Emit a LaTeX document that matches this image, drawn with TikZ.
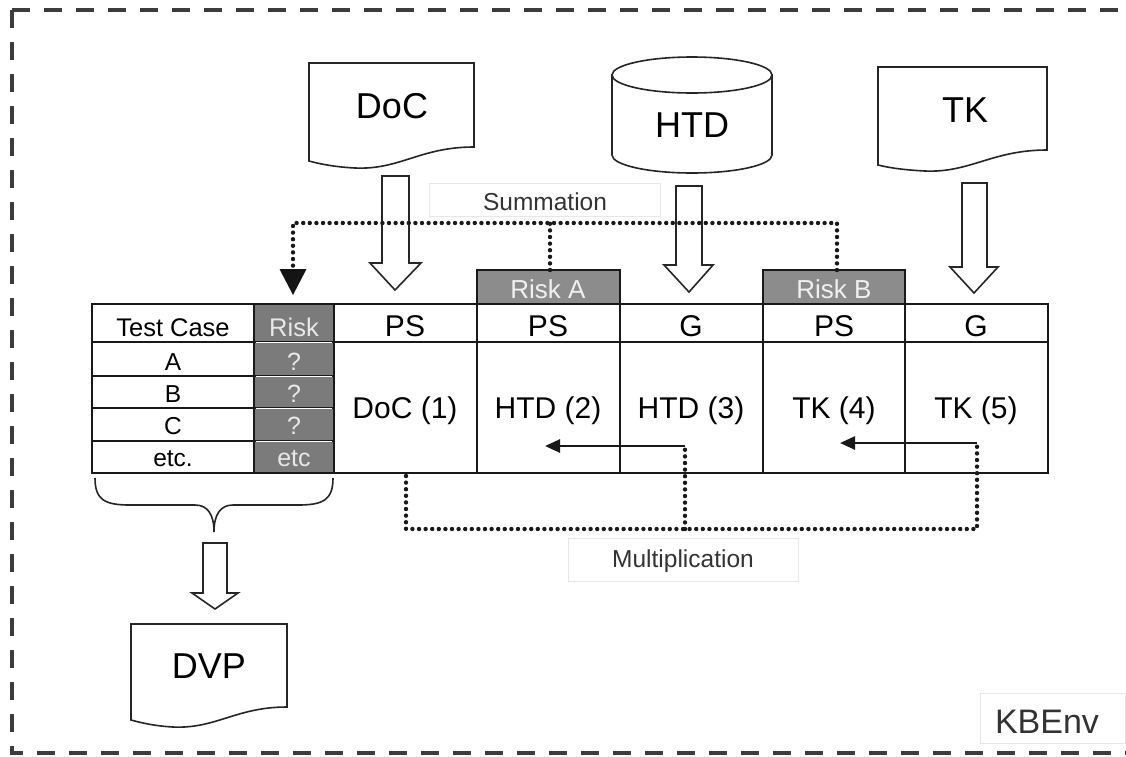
\documentclass[tikz,border=0pt]{standalone}
\usepackage{fontspec}
\setmainfont{Liberation Sans}
\usetikzlibrary{arrows.meta}
\definecolor{riskcol}{HTML}{7B7B7B}
\definecolor{riskhdr}{HTML}{8C8C8C}
\definecolor{risktxt}{HTML}{E8E8E8}
\definecolor{lbltxt}{HTML}{333333}
\definecolor{faint}{HTML}{E6E6E6}
\definecolor{frame}{HTML}{3C3C3C}
\newcommand{\fs}[1]{\fontsize{#1}{#1}\selectfont}
\tikzset{
  x=1pt, y=-1pt,
  bigtxt/.style={anchor=base, inner sep=0pt, font=\fs{36}},
  celltxt/.style={anchor=base, inner sep=0pt, font=\fs{30}},
  smalltxt/.style={anchor=base, inner sep=0pt, font=\fs{24.5}},
  risktext/.style={anchor=base, inner sep=0pt, font=\fs{25}, text=risktxt},
  docline/.style={draw=black!85, line width=1.6pt, fill=white},
  blockarrow/.style={draw=black!85, line width=1.6pt, fill=white},
  tabline/.style={draw=black!90, line width=2.8pt},
  dotline/.style={line width=4.4pt, line cap=round, dash pattern=on 0pt off 6.6pt, black!90},
  faintbox/.style={draw=faint, line width=0.8pt},
  solidarrow/.style={line width=2.6pt, black!90, -{Triangle[length=15pt,width=13pt]}},
}
\begin{document}
\begin{tikzpicture}
\useasboundingbox (0,0) rectangle (1126,756);
\clip (0,0) rectangle (1126,756);
\fill[white] (0,0) rectangle (1126,756);
% outer dashed frame
\draw[frame, line width=4pt, dash pattern=on 18pt off 14pt] (12,10) rectangle (1150,753);

% ---------- documents ----------
\path[docline] (309,63) -- (474,63) -- (474,147) .. controls (420,147) and (400,170) .. (355,168) .. controls (335,167) and (320,164) .. (309,161) -- cycle;
\node[bigtxt] (doc) at (392,118) {DoC};

\path[docline] (878,67) -- (1047,67) -- (1047,150) .. controls (992,150) and (970,173) .. (925,171) .. controls (905,170) and (890,168) .. (878,165) -- cycle;
\node[bigtxt] (tk) at (965,122) {TK};

\path[docline] (131,624) -- (287,624) -- (287,707) .. controls (236,707) and (216,729) .. (173,727) .. controls (155,726) and (142,723) .. (131,720) -- cycle;
\node[bigtxt] (dvp) at (209,678) {DVP};

% cylinder HTD
\path[docline] (612,75) -- (612,155) arc[start angle=180, end angle=360, x radius=80, y radius=-18] -- (772,75) -- cycle;
\draw[docline] (692,75) ellipse[x radius=80, y radius=18];
\node[bigtxt] (htd) at (692,137) {HTD};

% ---------- block arrows ----------
\path[blockarrow] (382,176) -- (409,176) -- (409,263) -- (421,263) -- (395,290) -- (370,263) -- (382,263) -- cycle;
\path[blockarrow] (676,186) -- (702,186) -- (702,265) -- (713,265) -- (689,292) -- (664,265) -- (676,265) -- cycle;
\path[blockarrow] (962,183) -- (987,183) -- (987,267) -- (998,267) -- (974,293) -- (950,267) -- (962,267) -- cycle;
\path[blockarrow] (203,543) -- (227,543) -- (227,593) -- (238,593) -- (215,609) -- (192,593) -- (203,593) -- cycle;

% ---------- table ----------
\fill[riskcol] (254,304) rectangle (334,473);
\fill[riskhdr] (477,270) rectangle (620,304);
\fill[riskhdr] (763,270) rectangle (905,304);
\draw[tabline] (477,270) rectangle (620,304);
\draw[tabline] (763,270) rectangle (905,304);
\draw[tabline] (92,304) rectangle (1048,473);
\draw[tabline] (92,342) -- (1048,342);
\draw[tabline] (92,376) -- (334,376);
\draw[tabline] (92,408) -- (334,408);
\draw[tabline] (92,441) -- (334,441);
\foreach \xx in {254,334,477,620,763,905} \draw[tabline] (\xx,304) -- (\xx,473);
\draw[white, line width=0.6pt] (255.8,376) -- (332.2,376);
\draw[white, line width=0.6pt] (255.8,408) -- (332.2,408);
\draw[white, line width=0.6pt] (255.8,441) -- (332.2,441);
\draw[white, line width=0.6pt] (255.8,342) -- (332.2,342);

\node[risktext, font=\fs{26}, text=white!94!black] (riskA) at (548,298) {Risk A};
\node[risktext, font=\fs{26}, text=white!94!black] (riskB) at (834,298) {Risk B};
\coordinate (riskAtop) at (550,270);
\coordinate (riskBtop) at (837,270);

\node[smalltxt, font=\fs{25.5}] (tc) at (173,336) {Test Case};
\node[risktext, font=\fs{25.5}] (riskH) at (294,336) {Risk};
\node[celltxt] (h1) at (405,336) {PS};
\node[celltxt] (h2) at (548,336) {PS};
\node[celltxt] (h3) at (691,336) {G};
\node[celltxt] (h4) at (834,336) {PS};
\node[celltxt] (h5) at (976,336) {G};

\node[smalltxt] (ra) at (173,370) {A};
\node[smalltxt] (rb) at (173,402) {B};
\node[smalltxt] (rc) at (173,434) {C};
\node[smalltxt] (rd) at (173,466) {etc.};
\node[risktext] (qa) at (294,370) {?};
\node[risktext] (qb) at (294,402) {?};
\node[risktext] (qc) at (294,434) {?};
\node[risktext] (qd) at (294,466) {etc};

\node[celltxt] (c1) at (405,418) {DoC (1)};
\node[celltxt] (c2) at (548,418) {HTD (2)};
\node[celltxt] (c3) at (691,418) {HTD (3)};
\node[celltxt] (c4) at (834,418) {TK (4)};
\node[celltxt] (c5) at (976,418) {TK (5)};

% ---------- summation ----------
\draw[faintbox] (429,183) rectangle (660,216);
\node[anchor=base, inner sep=0pt, font=\fs{24.5}, text=lbltxt] (sum) at (545,210) {Summation};
\coordinate (sumL) at (293,223);
\coordinate (sumEnd) at (293,268);
\draw[dotline] (riskAtop) -- (riskAtop |- sumL);
\draw[dotline] (riskBtop) -- (riskBtop |- sumL) -- (sumL) -- (sumEnd);
\fill[black!92] (279.5,269) -- (306.5,269) -- (293,295) -- cycle;

% ---------- multiplication ----------
\draw[faintbox] (568,538) rectangle (798,581);
\node[anchor=base, inner sep=0pt, font=\fs{24.5}, text=lbltxt] (mul) at (683,567) {Multiplication};
\coordinate (m1) at (406,476);
\coordinate (mL) at (406,529);
\coordinate (mA) at (685,446);
\coordinate (mB) at (977,443);
\draw[dotline] (m1) -- (mL) -- (mB |- mL) -- (mB);
\draw[dotline] (mA |- mL) -- (mA);
\coordinate (aA) at (545,446);
\coordinate (aB) at (840,443);
\draw[solidarrow] (mA) -- (aA);
\draw[solidarrow] (mB) -- (aB);

% ---------- brace ----------
\draw[black!85, line width=1.6pt] (95,478) .. controls (95,500) and (105,505) .. (130,505) -- (195,505) .. controls (208,505) and (214,515) .. (214,532) .. controls (214,515) and (220,505) .. (233,505) -- (298,505) .. controls (323,505) and (333,500) .. (333,478);

% ---------- KBEnv ----------
\draw[faintbox] (980,693) rectangle (1125,743);
\node[anchor=base, inner sep=0pt, font=\fs{34}, text=lbltxt] (kb) at (1047,733) {KBEnv};
\end{tikzpicture}
\end{document}
